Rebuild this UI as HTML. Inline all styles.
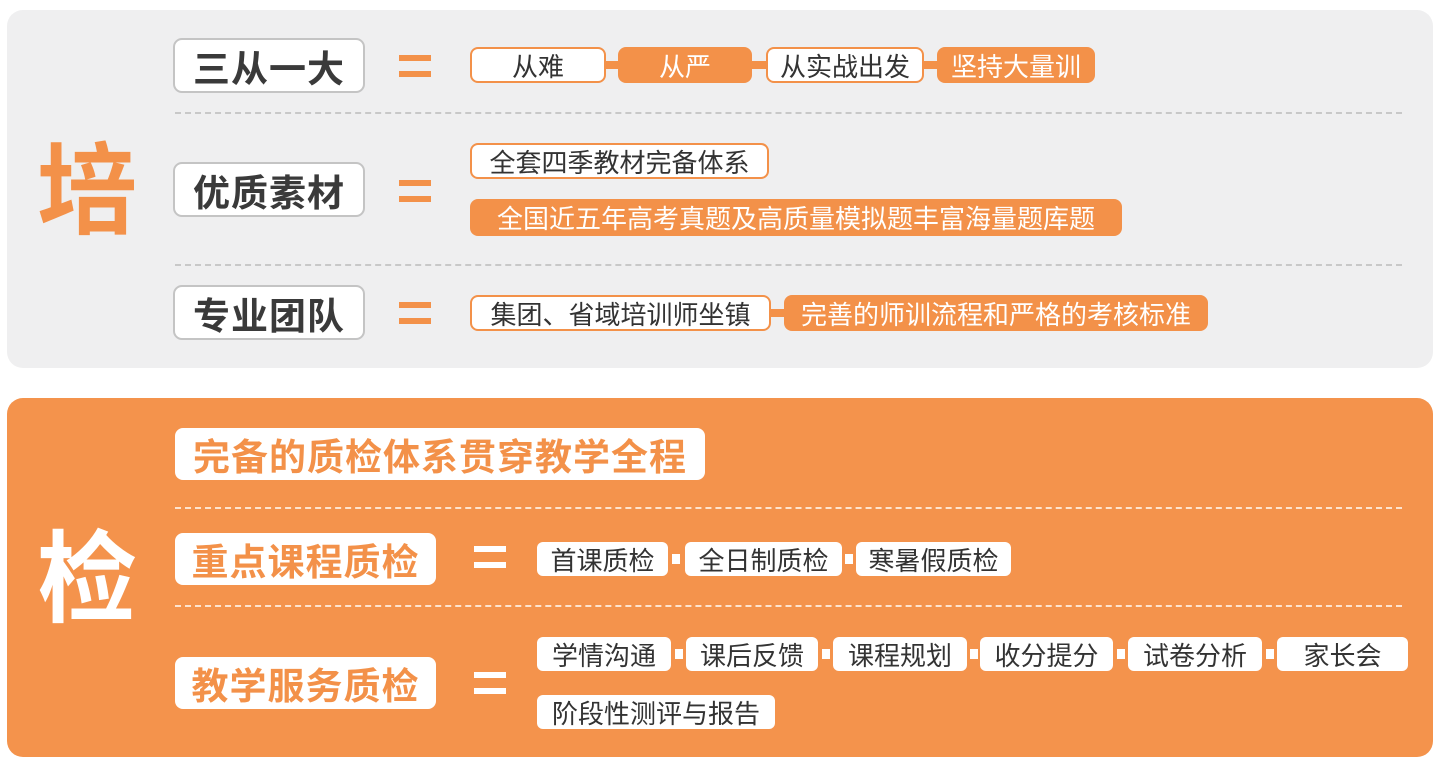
<!DOCTYPE html>
<html><head><meta charset="utf-8"><style>
*{margin:0;padding:0;box-sizing:border-box}
body{width:1442px;height:765px;background:#fff;position:relative;overflow:hidden;font-family:"Liberation Sans","Noto Sans CJK SC",sans-serif}
.panel{position:absolute;border-radius:16px}
.lab{position:absolute;background:#fff;border:2px solid #c4c4c4;border-radius:9px;display:flex;align-items:center;justify-content:center;font-weight:bold;font-size:37px;color:#3a3a3a;letter-spacing:1px}
.lab2{position:absolute;background:#fff;border-radius:8px;display:flex;align-items:center;justify-content:center;font-weight:bold;font-size:37px;color:#f39149;letter-spacing:1px}
.eq{position:absolute;width:32px;height:22px;border-top:6px solid #f39149;border-bottom:6px solid #f39149}
.eqw{border-color:#fff}
.p{position:absolute;height:36px;border-radius:8px;display:flex;align-items:center;justify-content:center;font-size:26px}
.pw{background:#fff;border:2px solid #f39149;color:#333}
.po{background:#f39149;color:#fff}
.q{position:absolute;height:34px;border-radius:6px;background:#fff;display:flex;align-items:center;justify-content:center;font-size:26px;color:#333}
.c{position:absolute;height:8px;background:#f39149}
.cw{position:absolute;width:8px;height:10px;background:#fff}
.dash{position:absolute;height:0;border-top:2px dashed #c8c8c8;left:175px;width:1227px}
.dashw{border-top-color:#fde3cf}
.big{position:absolute;font-weight:bold;font-size:100px;line-height:100px}
</style></head><body>
<div class="panel" style="left:7px;top:10px;width:1426px;height:358px;background:#efeff0"></div>
<div class="panel" style="left:7px;top:398px;width:1426px;height:359px;background:#f4934c"></div>

<div class="big" style="left:37px;top:142px;color:#f39149">培</div>
<div class="big" style="left:37px;top:530px;color:#fff">检</div>

<div class="lab" style="left:173px;top:38px;width:192px;height:55px">三从一大</div>
<div class="lab" style="left:173px;top:162px;width:192px;height:55px">优质素材</div>
<div class="lab" style="left:173px;top:285px;width:192px;height:55px">专业团队</div>
<div class="eq" style="left:399px;top:55px"></div>
<div class="eq" style="left:399px;top:180px"></div>
<div class="eq" style="left:399px;top:302px"></div>
<div class="dash" style="top:112px"></div>
<div class="dash" style="top:264px"></div>

<div class="c" style="left:600px;top:61px;width:24px"></div>
<div class="c" style="left:748px;top:61px;width:24px"></div>
<div class="c" style="left:918px;top:61px;width:24px"></div>
<div class="p pw" style="left:470px;top:47px;width:136px">从难</div>
<div class="p po" style="left:618px;top:47px;width:134px">从严</div>
<div class="p pw" style="left:766px;top:47px;width:158px">从实战出发</div>
<div class="p po" style="left:937px;top:47px;width:158px">坚持大量训</div>

<div class="p pw" style="left:470px;top:143px;width:299px">全套四季教材完备体系</div>
<div class="p po" style="left:470px;top:199px;width:652px;height:37px">全国近五年高考真题及高质量模拟题丰富海量题库题</div>

<div class="c" style="left:765px;top:309px;width:24px"></div>
<div class="p pw" style="left:470px;top:295px;width:301px">集团、省域培训师坐镇</div>
<div class="p po" style="left:784px;top:295px;width:424px">完善的师训流程和严格的考核标准</div>

<div class="lab2" style="left:175px;top:428px;width:530px;height:52px">完备的质检体系贯穿教学全程</div>
<div class="dash dashw" style="top:507px"></div>
<div class="dash dashw" style="top:605px"></div>
<div class="lab2" style="left:175px;top:533px;width:261px;height:52px">重点课程质检</div>
<div class="lab2" style="left:175px;top:657px;width:261px;height:52px">教学服务质检</div>
<div class="eq eqw" style="left:474px;top:546px"></div>
<div class="eq eqw" style="left:474px;top:672px"></div>

<div class="cw" style="left:672px;top:554px"></div>
<div class="cw" style="left:845px;top:554px"></div>
<div class="q" style="left:537px;top:542px;width:131px">首课质检</div>
<div class="q" style="left:685px;top:542px;width:157px">全日制质检</div>
<div class="q" style="left:856px;top:542px;width:155px">寒暑假质检</div>

<div class="cw" style="left:675px;top:649px"></div>
<div class="cw" style="left:822px;top:649px"></div>
<div class="cw" style="left:970px;top:649px"></div>
<div class="cw" style="left:1117px;top:649px"></div>
<div class="cw" style="left:1266px;top:649px"></div>
<div class="q" style="left:537px;top:637px;width:134px">学情沟通</div>
<div class="q" style="left:686px;top:637px;width:132px">课后反馈</div>
<div class="q" style="left:833px;top:637px;width:134px">课程规划</div>
<div class="q" style="left:980px;top:637px;width:133px">收分提分</div>
<div class="q" style="left:1128px;top:637px;width:134px">试卷分析</div>
<div class="q" style="left:1277px;top:637px;width:131px">家长会</div>
<div class="q" style="left:537px;top:695px;width:238px">阶段性测评与报告</div>
</body></html>
